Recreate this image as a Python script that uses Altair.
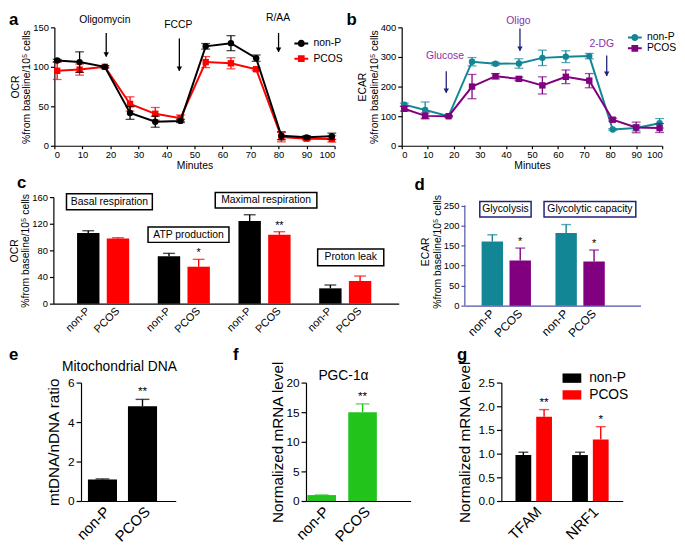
import altair as alt
import pandas as pd

FONT = "Liberation Sans"
GROUPS = ["non-P", "PCOS"]

# ---------------- panel a : OCR time course ----------------
minutes = [1, 9, 18, 27, 36, 45, 54, 63, 72, 81, 90, 99]
ocr_nonp = [108, 106, 100, 41.5, 30.5, 31.5, 126, 130, 111, 12.7, 10.7, 12]
ocr_nonp_err = [1.5, 13, 1.5, 8, 7, 2, 3.5, 9.5, 4, 5, 2, 4]
ocr_pcos = [95, 96.5, 100, 53, 40.5, 35, 106, 104.5, 97, 11, 9, 8.7]
ocr_pcos_err = [11, 7, 1, 9, 8, 4, 7, 7, 2, 6, 2, 4]
a_arrow_labels = ["Oligomycin", "FCCP", "R/AA"]
a_arrow_x = [18.5, 44.6, 80]
a_text_x = [18, 44.2, 79.8]
a_arrow_top = [143, 136, 143]
a_arrow_tip = [113, 95, 119]
a_text_y = [155, 149, 158]

# ---------------- panel b : ECAR time course ----------------
ecar_nonp = [139, 121, 100, 284, 277, 278, 297, 301, 303, 55, 60, 76]
ecar_nonp_err = [5, 27, 3, 14, 5, 16, 26, 20, 9, 3, 10, 16]
ecar_pcos = [125, 101, 100, 200, 235, 226, 204, 233, 220, 88, 62, 60]
ecar_pcos_err = [8, 10, 2, 41, 9, 6, 29, 23, 24, 5, 18, 15]
b_arrow_labels = ["Glucose", "Oligo", "2-DG"]
b_arrow_x = [17.1, 45.4, 78.7]
b_text_x = [16.6, 44.8, 76.8]
b_arrow_top = [252, 396, 305]
b_arrow_tip = [179, 321, 236]
b_text_y = [292, 412, 335]

# ---------------- panel c : OCR parameters ----------------
c_groups = ["Basal respiration", "ATP production", "Maximal respiration", "Proton leak"]
c_nonp = [106, 71, 124, 23]
c_nonp_err = [3.5, 4.5, 9.5, 5]
c_pcos = [98, 55.5, 103.5, 34]
c_pcos_err = [1, 11, 4.5, 7.5]
c_stars = ["", "*", "**", ""]
c_box_lo = [141, 92, 143.5, 57]
c_box_hi = [165, 115, 167, 82]
c_box_shift = [0.078, 0.058, 0.019, 0.068]

# ---------------- panel d : ECAR parameters ----------------
d_groups = ["Glycolysis", "Glycolytic capacity"]
d_nonp = [160, 181.4]
d_nonp_err = [17, 21]
d_pcos = [112.7, 110.4]
d_pcos_err = [31, 28.4]
d_stars = ["*", "*"]
d_box_lo = [221, 221]
d_box_hi = [260, 260]
d_box_shift = [-0.011, 0.133]

# ---------------- panels e, f, g ----------------
e_vals = [1.09, 4.8]
e_err = [0.03, 0.35]
e_stars = ["", "**"]
f_vals = [1.0, 15.0]
f_err = [0.02, 1.4]
f_stars = ["", "**"]
g_genes = ["TFAM", "NRF1"]
g_nonp = [0.97, 0.97]
g_nonp_err = [0.06, 0.06]
g_pcos = [1.78, 1.30]
g_pcos_err = [0.15, 0.27]
g_stars = ["**", "*"]

RED = "#ff0000"
TEAL = "#138696"
PURPLE = "#800080"
GREEN = "#22c41c"
NAVY = "#22227a"
ANNOT_PURPLE = "#8e2fa8"
D_AXIS = "#5252a6"


def ax(**kw):
    base = dict(labelFont=FONT, titleFont=FONT, labelColor="black", titleColor="black",
                domain=True, domainColor="black", tickColor="black", domainWidth=1.2, tickWidth=1.2,
                titleFontWeight="normal", grid=False, labelOverlap=False)
    base.update(kw)
    return alt.Axis(**base)


def panel_label(text, x, y):
    return alt.Chart(pd.DataFrame({"t": [text]})).mark_text(
        font=FONT, fontSize=17, fontWeight="bold", align="left", baseline="alphabetic", color="black"
    ).encode(x=alt.value(x), y=alt.value(y), text="t:N")


def spacer():
    return alt.Chart(pd.DataFrame({"v": [0]})).mark_point(size=0, opacity=0).encode(
        x=alt.value(0), y=alt.value(0)).properties(width=1, height=1)


def factory(channel, scale, axis):
    def enc(f):
        return channel(f, scale=scale, axis=axis)
    return enc


LINE_PATHS = {
    "circle": "M-1.75,-0.25H1.75V0.25H-1.75ZM0.9,0A0.9,0.9,0,1,1,-0.9,0A0.9,0.9,0,1,1,0.9,0Z",
    "square": "M-1.75,-0.25H1.75V0.25H-1.75ZM-0.85,-0.85H0.85V0.85H-0.85Z",
}


def timecourse(means, errs, colors, shapes, order, y_dom, y_vals, y_title, width, height,
               arrows, arrow_color, text_color, legend_xy, legend_rowpad, plabel, plabel_xy):
    rows = []
    for g, m, e in zip(GROUPS, means, errs):
        for t, mv, ev in zip(minutes, m, e):
            rows.append({"minute": t, "grp": g, "mean": mv, "lo": mv - ev, "hi": mv + ev})
    df = pd.DataFrame(rows)
    X = factory(alt.X, alt.Scale(domain=[0, 100], nice=False),
                ax(values=list(range(0, 101, 10)), title="Minutes", labelFontSize=9.5, titleFontSize=10.5,
                   tickSize=3, labelPadding=1, titlePadding=2))
    Y = factory(alt.Y, alt.Scale(domain=y_dom, nice=False),
                ax(values=y_vals, title=y_title, labelFontSize=9.5, titleFontSize=10.5, tickSize=4,
                   labelPadding=2, titlePadding=1, titleLineHeight=12))
    layers = []
    for g in order:
        col = colors[GROUPS.index(g)]
        shp = shapes[GROUPS.index(g)]
        sub = alt.Chart(df).transform_filter(alt.datum.grp == g)
        layers += [
            sub.mark_line(color=col, strokeWidth=2).encode(X("minute:Q"), Y("mean:Q")),
            sub.mark_rule(color=col, strokeWidth=1.3).encode(X("minute:Q"), Y("lo:Q"), alt.Y2("hi:Q")),
            sub.mark_tick(color=col, orient="horizontal", size=9, thickness=1.3).encode(X("minute:Q"), Y("lo:Q")),
            sub.mark_tick(color=col, orient="horizontal", size=9, thickness=1.3).encode(X("minute:Q"), Y("hi:Q")),
            sub.mark_point(filled=True, shape=shp, size=42, color=col, opacity=1).encode(X("minute:Q"), Y("mean:Q")),
        ]
    labels, ax_x, tx_x, top, tip, ty = arrows
    adf = pd.DataFrame({"label": labels, "minute": ax_x, "tx": tx_x, "top": top, "tip": tip, "ty": ty})
    layers += [
        alt.Chart(adf).mark_rule(color=arrow_color, strokeWidth=1.3).encode(
            X("minute:Q"), Y("top:Q"), alt.Y2("tip:Q")),
        alt.Chart(adf).mark_point(shape="triangle-down", filled=True, size=30, color=arrow_color, opacity=1,
                                  yOffset=-2).encode(X("minute:Q"), Y("tip:Q")),
        alt.Chart(adf).mark_text(font=FONT, fontSize=10.5, color=text_color, baseline="alphabetic").encode(
            X("tx:Q"), Y("ty:Q"), text="label:N"),
    ]
    leg = dict(title=None, orient="none", legendX=legend_xy[0], legendY=legend_xy[1], symbolSize=64,
               symbolOpacity=1, labelFont=FONT, labelFontSize=10.5, labelOffset=7, rowPadding=legend_rowpad,
               padding=0, symbolStrokeWidth=0, labelColor="black")
    layers.append(
        alt.Chart(df).mark_point(filled=True, opacity=0).encode(
            color=alt.Color("grp:N", scale=alt.Scale(domain=GROUPS, range=colors), legend=alt.Legend(**leg)),
            shape=alt.Shape("grp:N", scale=alt.Scale(domain=GROUPS, range=[LINE_PATHS[s] for s in shapes]),
                            legend=alt.Legend(**leg)),
        )
    )
    layers.append(panel_label(plabel, *plabel_xy))
    return alt.layer(*layers).resolve_scale(color="independent", shape="independent").properties(
        width=width, height=height)


def grouped_df(groups, nonp, nonp_err, pcos, pcos_err, stars, sep):
    rows = []
    for i, g in enumerate(groups):
        rows.append(dict(group=g, gi=i, pos=i - sep / 2, cond="non-P", mean=nonp[i], hi=nonp[i] + nonp_err[i], star=""))
        rows.append(dict(group=g, gi=i, pos=i + sep / 2, cond="PCOS", mean=pcos[i], hi=pcos[i] + pcos_err[i],
                         star=stars[i]))
    return pd.DataFrame(rows)


def bar_layers(df, xf, X, Y, colors, bar_w, cap, star_size, rot_size=None, height=None, legend=None):
    color = alt.Color("cond:N", scale=alt.Scale(domain=GROUPS, range=colors), legend=legend)
    base = alt.Chart(df)
    layers = [
        base.mark_bar(**({"width": bar_w} if bar_w else {})).encode(X(xf), Y("mean:Q"), color),
        base.mark_rule(strokeWidth=1.4).encode(X(xf), Y("mean:Q"), alt.Y2("hi:Q"), color),
        base.mark_tick(orient="horizontal", size=cap, thickness=1.4).encode(X(xf), Y("hi:Q"), color),
        base.mark_text(font=FONT, fontSize=star_size, baseline="bottom", dy=-1, color="black").encode(
            X(xf), Y("hi:Q"), text="star:N"),
    ]
    if rot_size is not None:
        layers.append(base.mark_text(font=FONT, fontSize=rot_size, angle=315, align="right", baseline="middle",
                                     color="black").encode(X(xf), y=alt.value(height + 6), text="cond:N"))
    return layers


def boxes(groups, shifts, lo, hi, widths, X, Y, stroke):
    out = []
    for i, (g, s, l, h, w) in enumerate(zip(groups, shifts, lo, hi, widths)):
        bdf = pd.DataFrame({"group": [g], "bx": [i + s], "lo": [l], "hi": [h], "mid": [(l + h) / 2]})
        out.append(alt.Chart(bdf).mark_rect(width=w, fill="white", stroke=stroke, strokeWidth=1.5).encode(
            X("bx:Q"), Y("lo:Q"), alt.Y2("hi:Q")))
        out.append(alt.Chart(bdf).mark_text(font=FONT, fontSize=10.5, baseline="middle", color="black").encode(
            X("bx:Q"), Y("mid:Q"), text="group:N"))
    return out


# ---------------- build a, b ----------------
chart_a = timecourse([ocr_nonp, ocr_pcos], [ocr_nonp_err, ocr_pcos_err], ["black", RED], ["circle", "square"],
                     ["PCOS", "non-P"], [0, 150], [0, 50, 100, 150], ["OCR", "%from baseline/10⁵ cells"],
                     284, 120,
                     (a_arrow_labels, a_arrow_x, a_text_x, a_arrow_top, a_arrow_tip, a_text_y),
                     "black", "black", (245, 11), 4.5, "a", (-46, -2))
chart_b = timecourse([ecar_nonp, ecar_pcos], [ecar_nonp_err, ecar_pcos_err], [TEAL, PURPLE], ["circle", "square"],
                     ["non-P", "PCOS"], [0, 400], [0, 100, 200, 300, 400], ["ECAR", "%from baseline/10⁵ cells"],
                     264, 120,
                     (b_arrow_labels, b_arrow_x, b_text_x, b_arrow_top, b_arrow_tip, b_text_y),
                     NAVY, ANNOT_PURPLE, (231, 5), 0, "b", (-56, -2))

# ---------------- build c ----------------
C_W, C_H = 350, 108
c_df = grouped_df(c_groups, c_nonp, c_nonp_err, c_pcos, c_pcos_err, c_stars, 0.368)
c_Y = factory(alt.Y, alt.Scale(domain=[0, 160], nice=False),
              ax(values=[0, 40, 80, 120, 160], title=["OCR", "%from baseline/10⁵ cells"], labelFontSize=9.5,
                 titleFontSize=10.5, tickSize=4, labelPadding=2, titlePadding=1, titleLineHeight=12))
c_X = factory(alt.X, alt.Scale(domain=[-0.555, 3.602], nice=False, zero=False),
              ax(labels=False, ticks=False, title=None))
chart_c = alt.layer(
    *bar_layers(c_df, "pos:Q", c_X, c_Y, ["black", RED], 22.7, 12, 11, rot_size=11, height=C_H),
    *boxes(c_groups, c_box_shift, c_box_lo, c_box_hi, [87, 82, 103, 67], c_X, c_Y, "black"),
    panel_label("c", -37, -9),
).properties(width=C_W, height=C_H)

# ---------------- build d ----------------
D_W, D_H = 178, 110
d_df = grouped_df(d_groups, d_nonp, d_nonp_err, d_pcos, d_pcos_err, d_stars, 0.378)
d_Y = factory(alt.Y, alt.Scale(domain=[0, 271], nice=False),
              ax(values=[0, 50, 100, 150, 200, 250], title=["ECAR", "%from baseline/10⁵ cells"],
                 labelFontSize=9.5, titleFontSize=10.5, tickSize=4, labelPadding=2, titlePadding=1,
                 titleLineHeight=12, domain=False, tickColor=D_AXIS))
d_X = factory(alt.X, alt.Scale(domain=[-0.494, 1.751], nice=False, zero=False),
              ax(labels=False, ticks=False, title=None, domainColor=D_AXIS))
d_axis_line = alt.Chart(pd.DataFrame({"y0": [0], "y1": [250]})).mark_rule(color=D_AXIS, strokeWidth=1.2).encode(
    x=alt.value(0), y=d_Y("y0:Q"), y2="y1:Q")
chart_d = alt.layer(
    *bar_layers(d_df, "pos:Q", d_X, d_Y, [TEAL, PURPLE], 21.7, 10, 11, rot_size=12, height=D_H),
    *boxes(d_groups, d_box_shift, d_box_lo, d_box_hi, [52, 93], d_X, d_Y, NAVY),
    d_axis_line,
    panel_label("d", -51, -7),
).properties(width=D_W, height=D_H)


# ---------------- build e, f ----------------
def single_panel(vals, errs, stars, color, y_dom, y_vals, y_fmt, y_title, title_pad, width, scale_kw, title,
                 title_x, title_y, plabel, plabel_xy, height):
    df = pd.DataFrame({"cond": GROUPS, "mean": vals, "hi": [v + e for v, e in zip(vals, errs)], "star": stars})
    Y = factory(alt.Y, alt.Scale(domain=y_dom, nice=False),
                ax(values=y_vals, format=y_fmt, title=y_title, labelFontSize=12, titleFontSize=15.5, tickSize=5,
                   labelPadding=2, titlePadding=title_pad))
    xscale = alt.Scale(**scale_kw)
    xaxis = ax(labelAngle=-45, labelFontSize=15, ticks=False, title=None, labelPadding=3)

    def X(f):
        return alt.X(f, sort=GROUPS, scale=xscale, axis=xaxis)

    layers = bar_layers(df, "cond:N", X, Y, [color, color], None, 14, 12)
    layers.append(alt.Chart(pd.DataFrame({"t": [title]})).mark_text(
        font=FONT, fontSize=14, baseline="alphabetic", color="black").encode(
        x=alt.value(title_x), y=alt.value(title_y), text="t:N"))
    layers.append(panel_label(plabel, *plabel_xy))
    return alt.layer(*layers).properties(width=width, height=height)


E_H = 120
chart_e = single_panel(e_vals, e_err, e_stars, "black", [0, 6], [0, 2, 4, 6], "d", "mtDNA/nDNA ratio", 6, 96,
                       dict(paddingInner=0.273, paddingOuter=0.32, align=0.27), "Mitochondrial DNA", 39, -12,
                       "e", (-73, -23), E_H)
chart_f = single_panel(f_vals, f_err, f_stars, GREEN, [0, 20], [0, 5, 10, 15, 20], "d", "Normalized mRNA level",
                       0, 106, dict(paddingInner=0.3, paddingOuter=0.43, align=0.04), "PGC-1α", 38, -3,
                       "f", (-74, -23), E_H)

# ---------------- build g ----------------
g_df = grouped_df(g_genes, g_nonp, g_nonp_err, g_pcos, g_pcos_err, g_stars, 0.366)
g_Y = factory(alt.Y, alt.Scale(domain=[0, 2.5], nice=False),
              ax(values=[0, 0.5, 1.0, 1.5, 2.0, 2.5], format=".1f", title="Normalized mRNA level",
                 labelFontSize=12, titleFontSize=15.5, tickSize=5, labelPadding=2, titlePadding=6))
g_label_expr = "[" + ",".join("'" + s + "'" for s in g_genes) + "][datum.value]"
g_X = factory(alt.X, alt.Scale(domain=[-0.484, 1.484], nice=False, zero=False),
              ax(values=list(range(len(g_genes))), labelExpr=g_label_expr, labelAngle=-45, labelFontSize=15,
                 ticks=False, title=None, labelPadding=3))
g_legend = alt.Legend(title=None, orient="none", legendX=62, legendY=-14,
                      symbolType="M-1,-0.5H1V0.5H-1Z", symbolSize=361, symbolOpacity=1, labelFont=FONT,
                      labelFontSize=14, labelOffset=8, rowPadding=0, padding=0,
                      symbolStrokeWidth=0, labelColor="black")
chart_g = alt.layer(
    *bar_layers(g_df, "pos:Q", g_X, g_Y, ["black", RED], 16, 10, 12, legend=g_legend),
    panel_label("g", -45, -23),
).properties(width=123, height=E_H)

# ---------------- layout ----------------
RES = dict(color="independent", shape="independent")
row1 = alt.hconcat(spacer(), alt.hconcat(chart_a, chart_b, spacing=3).resolve_scale(**RES),
                   spacing=0).resolve_scale(**RES)
row2 = alt.hconcat(spacer(), alt.hconcat(chart_c, chart_d, spacing=16).resolve_scale(**RES),
                   spacing=0).resolve_scale(**RES)
row3 = alt.hconcat(
    spacer(),
    alt.hconcat(alt.hconcat(chart_e, chart_f, spacing=56).resolve_scale(**RES), chart_g,
                spacing=47).resolve_scale(**RES),
    spacing=0).resolve_scale(**RES)
chart = alt.vconcat(alt.vconcat(row1, row2, spacing=3).resolve_scale(**RES), row3,
                    spacing=6).resolve_scale(**RES).properties(
    padding=0
).configure_view(stroke=None).configure_axis(grid=False)

chart.save("out.html", embed_options={"renderer": "svg", "actions": False})
